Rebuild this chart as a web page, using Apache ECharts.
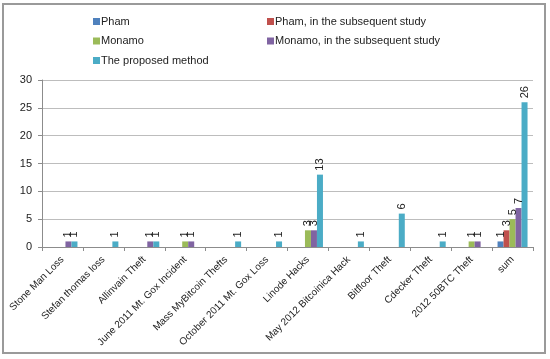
<!DOCTYPE html>
<html><head><meta charset="utf-8">
<script src="https://cdn.jsdelivr.net/npm/echarts@6/dist/echarts.min.js"></script>
<style>html,body{margin:0;padding:0;background:#fff}#c{width:550px;height:359px}</style>
</head><body><div id="c"></div>
<script>
const categories = ["Stone Man Loss","Stefan thomas loss","Allinvain Theft","June 2011 Mt. Gox Incident","Mass MyBitcoin Thefts","October 2011 Mt. Gox Loss","Linode Hacks","May 2012 Bitcoinica Hack","Bitfloor Theft","Cdecker Theft","2012 50BTC Theft","sum"];
const seriesNames = ["Pham","Pham, in the subsequent study","Monamo","Monamo, in the subsequent study","The proposed method"];
const pham =          [null,null,null,null,null,null,null,null,null,null,null,1];
const phamSub =       [null,null,null,null,null,null,null,null,null,null,null,3];
const monamo =        [null,null,null,1,null,null,3,null,null,null,1,5];
const monamoSub =     [1,null,1,1,null,null,3,null,null,null,1,7];
const proposed =      [1,1,1,null,1,1,13,1,6,1,null,26];
const yTicks = [0,5,10,15,20,25,30];
const colors = ["#4F81BD","#C0504D","#9BBB59","#8064A2","#4BACC6"];
const allData = [pham, phamSub, monamo, monamoSub, proposed];

const font = "Liberation Sans";
const chart = echarts.init(document.getElementById('c'), null, {renderer:'canvas'});
chart.setOption({
  animation:false,
  textStyle:{fontFamily:font},
  graphic:[{type:'rect',shape:{x:3,y:4,width:542,height:349},style:{fill:'none',stroke:'#9a9a9a',lineWidth:2},silent:true}],
  legend:[
    {data:[seriesNames[0],seriesNames[2],seriesNames[4]],orient:'vertical',left:88,top:11,itemWidth:7,itemHeight:7,itemGap:8.5,icon:'rect',textStyle:{fontSize:11,color:'#222',fontFamily:font,padding:[0,0,0,-4]}},
    {data:[seriesNames[1],seriesNames[3]],orient:'vertical',left:262,top:11,itemWidth:7,itemHeight:7,itemGap:8.5,icon:'rect',textStyle:{fontSize:11,color:'#222',fontFamily:font,padding:[0,0,0,-4]}}
  ],
  grid:{left:42,right:17,top:80,bottom:112,containLabel:false},
  xAxis:{type:'category',data:categories,
    axisLine:{lineStyle:{color:'#8c8c8c'}},
    axisTick:{show:true,alignWithLabel:false,length:4,lineStyle:{color:'#8c8c8c'}},
    axisLabel:{rotate:45,interval:0,fontSize:10,color:'#222',margin:11,fontFamily:font}
  },
  yAxis:{type:'value',min:0,max:30,interval:5,
    axisLine:{show:true,lineStyle:{color:'#8c8c8c'}},
    axisTick:{show:true,length:4,lineStyle:{color:'#8c8c8c'}},
    splitLine:{lineStyle:{color:'#bdbdbd'}},
    axisLabel:{fontSize:11,color:'#222',margin:10,fontFamily:font,
      formatter:v=>yTicks.includes(v)?String(v):''}
  },
  series: seriesNames.map((n,i)=>({
    name:n,type:'bar',data:allData[i],barWidth:6,barGap:'0%',
    itemStyle:{color:colors[i]},
    label:{show:true,position:'top',rotate:90,align:'left',verticalAlign:'middle',distance:4,fontSize:11,color:'#222',fontFamily:font,
      formatter:p=>p.value==null?'':String(p.value)}
  }))
});
</script></body></html>
